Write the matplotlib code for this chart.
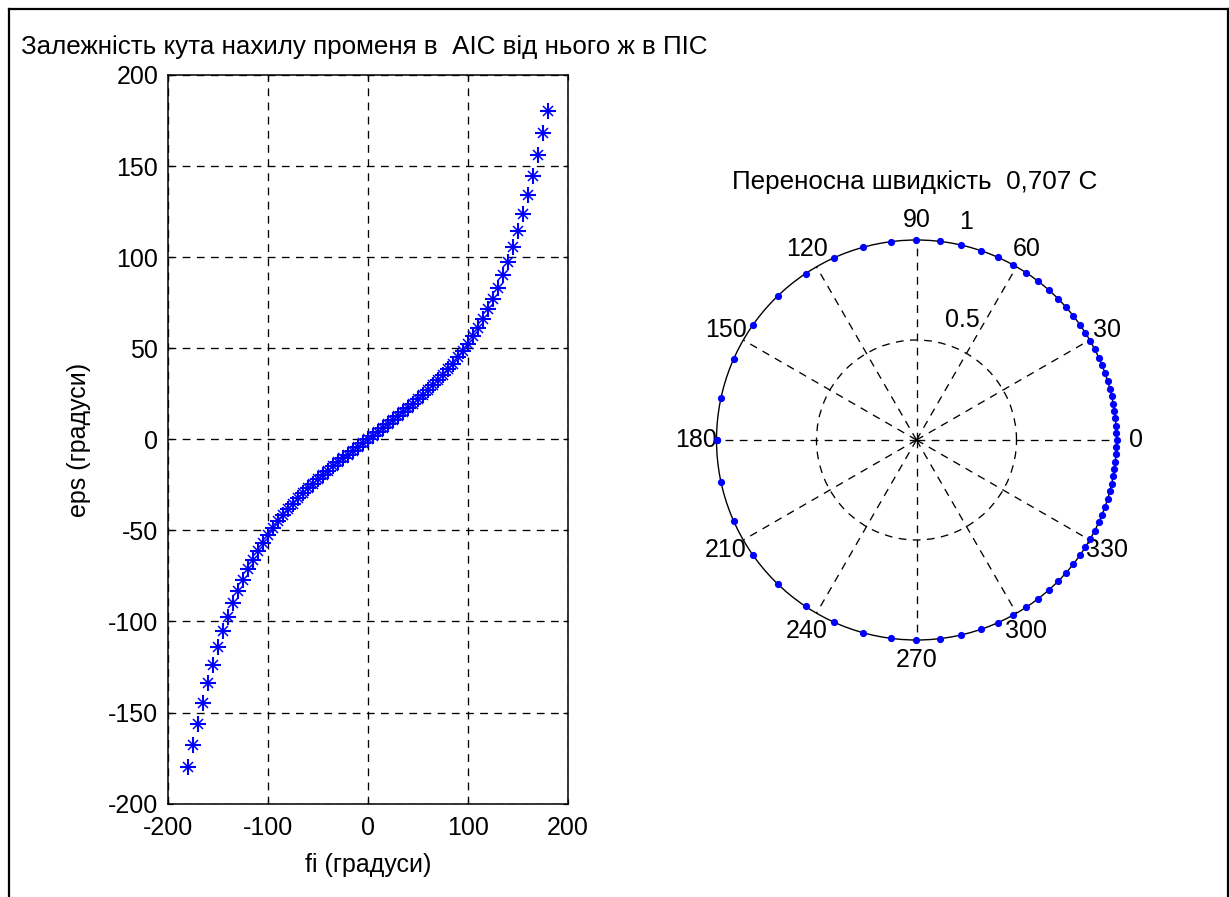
import numpy as np
import matplotlib
matplotlib.use("Agg")
import matplotlib.pyplot as plt
from matplotlib.lines import Line2D

plt.rcParams['font.family'] = ['Liberation Sans', 'DejaVu Sans']
plt.rcParams['lines.scale_dashes'] = False

# ---------------- data ----------------
fi_deg = [-180, -175, -170, -165, -160, -155, -150, -145, -140, -135, -130, -125,
          -120, -115, -110, -105, -100, -95, -90, -85, -80, -75, -70, -65,
          -60, -55, -50, -45, -40, -35, -30, -25, -20, -15, -10, -5,
          0, 5, 10, 15, 20, 25, 30, 35, 40, 45, 50, 55,
          60, 65, 70, 75, 80, 85, 90, 95, 100, 105, 110, 115,
          120, 125, 130, 135, 140, 145, 150, 155, 160, 165, 170, 175, 180]

eps_deg = [-180.00, -167.97, -156.16, -144.74, -133.89, -123.70, -114.22, -105.46,
           -97.39, -90.01, -83.24, -77.02, -71.33, -66.08, -61.22, -56.73,
           -52.55, -48.66, -45.00, -41.58, -38.34, -35.27, -32.35, -29.57,
           -26.91, -24.34, -21.87, -19.48, -17.15, -14.89, -12.67, -10.50,
           -8.36, -6.24, -4.15, -2.07,
           0.00,
           2.07, 4.15, 6.24, 8.36, 10.50, 12.67, 14.89, 17.15,
           19.48, 21.87, 24.34, 26.91, 29.57, 32.35, 35.27, 38.34,
           41.58, 45.00, 48.66, 52.55, 56.73, 61.22, 66.08, 71.33,
           77.02, 83.24, 90.01, 97.39, 105.46, 114.22, 123.70, 133.89,
           144.74, 156.16, 167.97, 180.00]

polar_r = [1.0] * len(eps_deg)

x_ticks = [-200, -100, 0, 100, 200]
y_ticks = [-200, -150, -100, -50, 0, 50, 100, 150, 200]
theta_labels = [0, 30, 60, 90, 120, 150, 180, 210, 240, 270, 300, 330]
r_labels = ['0.5', '1']

title_left = 'Залежність кута нахилу променя в  АІС від нього ж в ПІС'
title_right = 'Переносна швидкість  0,707 С'
xlabel = 'fi (градуси)'
ylabel = 'eps (градуси)'

# ---------------- figure ----------------
W, H = 1229, 897
FS = 18
FT = 18.7
fig = plt.figure(figsize=(W / 100, H / 100), dpi=100)
fig.patch.set_facecolor('white')

dash = (0, (5.6, 4.6))
blue = (0, 0, 1)
glw = 0.95

# left axes
ax = fig.add_axes([168 / W, 1 - 803.6 / H, 400 / W, 728.6 / H])
ax.plot(fi_deg, eps_deg, linestyle='none', marker='+', markersize=12,
        markeredgewidth=1.5, color=blue, zorder=3)
ax.plot(fi_deg, eps_deg, linestyle='none', marker='x', markersize=6.5,
        markeredgewidth=1.1, color=blue, zorder=3)
ax.set_xlim(-200, 200)
ax.set_ylim(-200, 200)
ax.set_xticks(x_ticks)
ax.set_yticks(y_ticks)
ax.set_xticklabels([str(v) for v in x_ticks])
ax.set_yticklabels([str(v) for v in y_ticks])
ax.grid(True, color='black', linestyle=dash, linewidth=glw)
ax.tick_params(direction='in', length=3.8, width=0.9, top=True, right=True,
               labelsize=FS, colors='black')
ax.tick_params(axis='y', pad=7.0)
ax.tick_params(axis='x', pad=9.0)
for sp in ax.spines.values():
    sp.set_linewidth(1.1)
    sp.set_color('black')

fig.text(364 / W, 1 - 47 / H, title_left, ha='center', va='center', fontsize=FT)
fig.text(368 / W, 1 - 865 / H, xlabel, ha='center', va='center', fontsize=FS)
fig.text(79 / W, 1 - 440 / H, ylabel, ha='center', va='center', fontsize=FS,
         rotation=90)

# polar axes
pax = fig.add_axes([716.5 / W, 1 - 640 / H, 400 / W, 400 / H], projection='polar')
pax.plot(np.deg2rad(eps_deg), polar_r, linestyle='none', marker='o',
         markersize=5.2, markeredgewidth=0, color=blue, zorder=4, clip_on=False)
pax.set_ylim(0, 1)
pax.set_thetagrids(theta_labels, labels=[''] * len(theta_labels))
pax.set_rgrids([0.5], labels=[''])
pax.grid(True, color='black', linestyle=dash, linewidth=glw)
pax.spines['polar'].set_linewidth(1.0)
pax.spines['polar'].set_color('black')
pax.tick_params(length=0)
for a in theta_labels:
    pax.text(np.deg2rad(a), 1.1, str(a), ha='center', va='center',
             fontsize=FS, clip_on=False)
pax.text(np.deg2rad(69.2), 0.642, r_labels[0], ha='center', va='center',
         fontsize=FS)
pax.text(np.deg2rad(77.2), 1.118, r_labels[1], ha='center', va='center',
         fontsize=FS, clip_on=False)

fig.text(915 / W, 1 - 182 / H, title_right, ha='center', va='center', fontsize=FT)

# window frame
lw = 1.6
fig.add_artist(Line2D([8.5 / W, 8.5 / W], [0, 1 - 9 / H], color='black', linewidth=lw))
fig.add_artist(Line2D([8.5 / W, 1227.5 / W], [1 - 9 / H, 1 - 9 / H], color='black', linewidth=lw))
fig.add_artist(Line2D([1227.5 / W, 1227.5 / W], [0, 1 - 9 / H], color='black', linewidth=lw))

fig.savefig('out.png', dpi=100, facecolor='white')
